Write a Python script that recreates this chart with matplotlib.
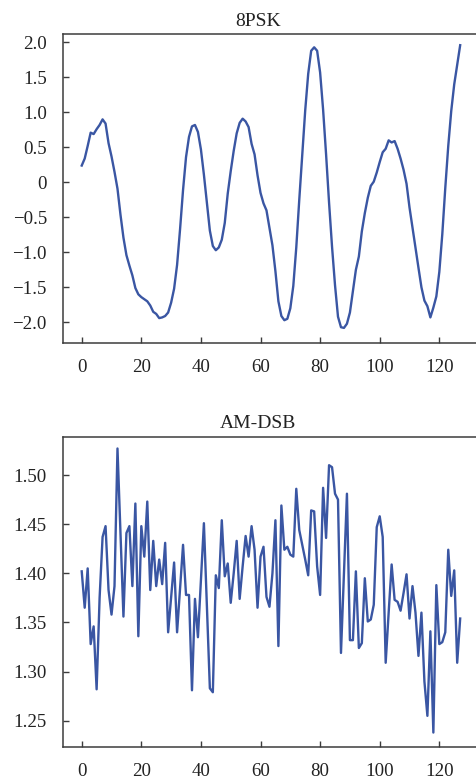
import matplotlib
matplotlib.use("Agg")
import matplotlib.pyplot as plt
import numpy as np

plt.rcParams['font.family'] = ['Liberation Serif', 'DejaVu Serif']

# ---------------- data ----------------
psk_title = "8PSK"
psk_values = [
    0.24, 0.34, 0.52, 0.71, 0.69, 0.76, 0.82, 0.90, 0.84, 0.56,
    0.37, 0.15, -0.09, -0.46, -0.79, -1.04, -1.19, -1.33, -1.51, -1.60,
    -1.64, -1.67, -1.70, -1.76, -1.85, -1.88, -1.94, -1.93, -1.91, -1.86,
    -1.72, -1.52, -1.18, -0.67, -0.11, 0.36, 0.65, 0.80, 0.82, 0.72,
    0.47, 0.11, -0.29, -0.69, -0.91, -0.97, -0.93, -0.82, -0.58, -0.16,
    0.16, 0.45, 0.70, 0.85, 0.91, 0.87, 0.79, 0.55, 0.40, 0.10,
    -0.15, -0.30, -0.40, -0.65, -0.90, -1.27, -1.70, -1.91, -1.97, -1.95,
    -1.80, -1.48, -0.93, -0.25, 0.40, 1.03, 1.55, 1.88, 1.93, 1.88,
    1.57, 1.04, 0.40, -0.29, -0.92, -1.47, -1.92, -2.07, -2.08, -2.02,
    -1.86, -1.56, -1.25, -1.06, -0.70, -0.44, -0.22, -0.05, 0.01, 0.14,
    0.29, 0.43, 0.48, 0.60, 0.57, 0.59, 0.48, 0.34, 0.18, -0.02,
    -0.36, -0.65, -0.94, -1.22, -1.50, -1.69, -1.77, -1.93, -1.79, -1.63,
    -1.28, -0.74, -0.08, 0.52, 1.02, 1.40, 1.68, 1.96,
]
psk_yticks = [2.0, 1.5, 1.0, 0.5, 0.0, -0.5, -1.0, -1.5, -2.0]
psk_yticklabels = ["2.0", "1.5", "1.0", "0.5", "0", "\u22120.5", "\u22121.0", "\u22121.5", "\u22122.0"]

am_title = "AM-DSB"
am_values = [
    1.402, 1.365, 1.405, 1.328, 1.346, 1.282, 1.375, 1.437, 1.448, 1.383,
    1.358, 1.387, 1.527, 1.441, 1.356, 1.441, 1.448, 1.387, 1.471, 1.336,
    1.448, 1.417, 1.473, 1.383, 1.433, 1.387, 1.414, 1.389, 1.431, 1.340,
    1.376, 1.411, 1.340, 1.385, 1.429, 1.378, 1.378, 1.281, 1.374, 1.335,
    1.393, 1.451, 1.368, 1.283, 1.279, 1.398, 1.385, 1.454, 1.397, 1.410,
    1.370, 1.400, 1.433, 1.374, 1.407, 1.438, 1.417, 1.448, 1.424, 1.365,
    1.417, 1.427, 1.376, 1.366, 1.400, 1.454, 1.326, 1.469, 1.424, 1.427,
    1.419, 1.417, 1.486, 1.444, 1.429, 1.414, 1.398, 1.464, 1.463, 1.407,
    1.378, 1.487, 1.436, 1.510, 1.508, 1.481, 1.475, 1.319, 1.400, 1.481,
    1.332, 1.332, 1.402, 1.324, 1.329, 1.395, 1.351, 1.353, 1.368, 1.447,
    1.458, 1.437, 1.309, 1.360, 1.409, 1.373, 1.371, 1.362, 1.380, 1.399,
    1.354, 1.387, 1.360, 1.316, 1.360, 1.290, 1.255, 1.341, 1.238, 1.388,
    1.328, 1.330, 1.340, 1.424, 1.377, 1.403, 1.309, 1.354,
]
am_yticks = [1.50, 1.45, 1.40, 1.35, 1.30, 1.25]
am_yticklabels = ["1.50", "1.45", "1.40", "1.35", "1.30", "1.25"]

xticks = [0, 20, 40, 60, 80, 100, 120]
xticklabels = ["0", "20", "40", "60", "80", "100", "120"]

# ---------------- figure ----------------
W, H = 476, 781
fig = plt.figure(figsize=(W / 100, H / 100), dpi=100)

line_color = "#3a56a3"
spine_color = "#3c3c3c"
tick_fs = 13.6
title_fs = 14

def px_rect(left, top, right, bottom):
    return [left / W, 1 - bottom / H, (right - left) / W, (bottom - top) / H]

ax1 = fig.add_axes(px_rect(62.8, 34, 479.1, 343.3))
ax2 = fig.add_axes(px_rect(62.8, 436.7, 479.1, 746.7))

panels = [
    (ax1, psk_title, psk_values, psk_yticks, psk_yticklabels, (-2.30, 2.12)),
    (ax2, am_title, am_values, am_yticks, am_yticklabels, (1.2236, 1.539)),
]

for ax, title, vals, yt, ytl, ylim in panels:
    x = np.arange(len(vals))
    ax.plot(x, vals, color=line_color, lw=1.7, solid_joinstyle='round')
    ax.set_xlim(-6.35, 133.35)
    ax.set_ylim(*ylim)
    ax.set_xticks(xticks)
    ax.set_xticklabels(xticklabels)
    ax.set_yticks(yt)
    ax.set_yticklabels(ytl)
    ax.tick_params(direction='in', length=4, width=1.0, colors=spine_color,
                   labelcolor='#222222', labelsize=tick_fs, pad=11.5)
    for s in ax.spines.values():
        s.set_color(spine_color)
        s.set_linewidth(1.1)
    ax.set_title(title, fontsize=title_fs, x=0.469, pad=6, color='#222222')

fig.savefig("out.png", dpi=100)
